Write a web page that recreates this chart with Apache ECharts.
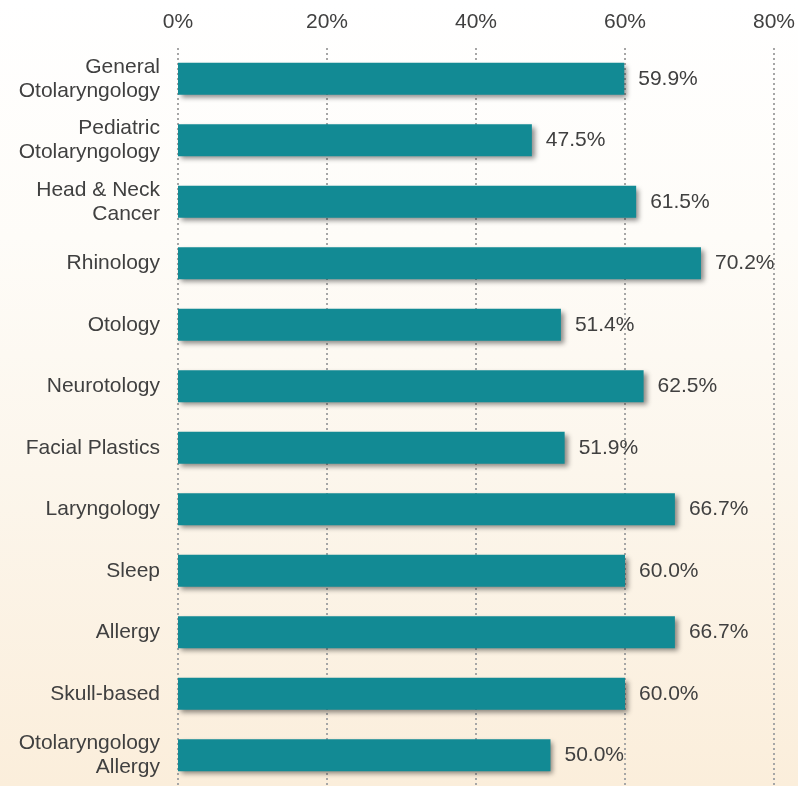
<!DOCTYPE html>
<html>
<head>
<meta charset="utf-8">
<script src="https://cdn.jsdelivr.net/npm/echarts@6/dist/echarts.min.js"></script>
<style>
  html, body { margin: 0; padding: 0; }
  #chart {
    width: 798px;
    height: 786px;
    background: linear-gradient(to bottom, #ffffff 0%, #fefcf8 30%, #fcf6ec 60%, #fbeedb 100%);
  }
</style>
</head>
<body>
<div id="chart"></div>
<script>
// categories top to bottom
const categories = [
  'General\nOtolaryngology',
  'Pediatric\nOtolaryngology',
  'Head & Neck\nCancer',
  'Rhinology',
  'Otology',
  'Neurotology',
  'Facial Plastics',
  'Laryngology',
  'Sleep',
  'Allergy',
  'Skull-based',
  'Otolaryngology\nAllergy'
];
const percents = [59.9, 47.5, 61.5, 70.2, 51.4, 62.5, 51.9, 66.7, 60.0, 66.7, 60.0, 50.0];
const tickStep = 20;
const maxValue = 80;

let myChart = echarts.init(document.getElementById('chart'));

let option = {
  backgroundColor: 'transparent',
  textStyle: { fontFamily: 'Liberation Sans, Arial, sans-serif' },
  grid: {
    left: 178,
    right: 24,
    top: 48,
    height: 747,
    containLabel: false
  },
  xAxis: {
    type: 'value',
    position: 'top',
    min: 0,
    max: maxValue,
    interval: tickStep,
    axisLine: { show: false },
    axisTick: { show: false },
    axisLabel: {
      formatter: '{value}%',
      color: '#404040',
      fontSize: 21,
      margin: 15
    },
    splitLine: {
      show: true,
      lineStyle: { color: '#a6a6a6', type: [2, 3], width: 2 }
    }
  },
  yAxis: {
    type: 'category',
    inverse: true,
    data: categories,
    axisLine: { show: false },
    axisTick: { show: false },
    axisLabel: {
      color: '#404040',
      fontSize: 21,
      lineHeight: 24,
      margin: 18
    }
  },
  series: [
    {
      type: 'bar',
      data: percents,
      barWidth: 32,
      itemStyle: {
        color: '#128a94',
        shadowColor: 'rgba(0,0,0,0.45)',
        shadowBlur: 5,
        shadowOffsetX: 3,
        shadowOffsetY: 3
      },
      label: {
        show: true,
        position: 'right',
        distance: 14,
        color: '#404040',
        fontSize: 21,
        formatter: p => p.value.toFixed(1) + '%'
      }
    }
  ]
};

myChart.setOption(option);
</script>
</body>
</html>
